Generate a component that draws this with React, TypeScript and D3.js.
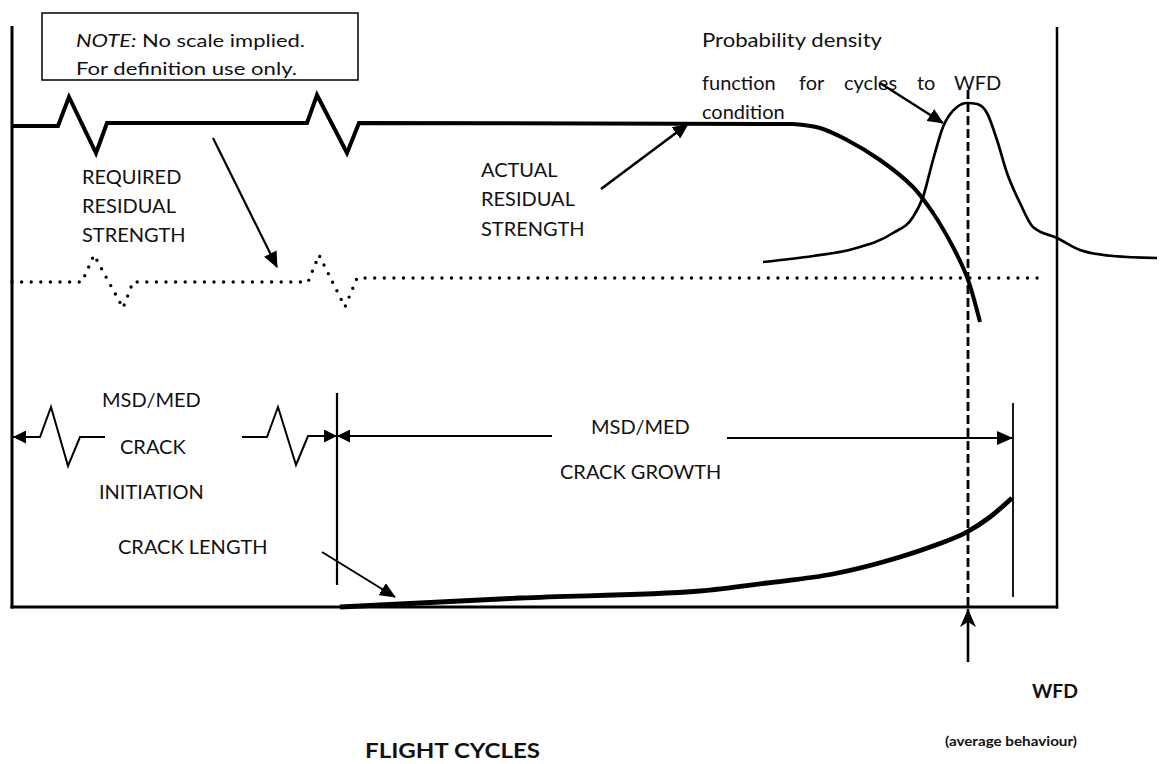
import React, { useEffect } from "react";
import * as d3 from "d3";

// ---- data (x: thousands of flight cycles, y: arbitrary strength / length units) ----
const actualStrengthFlat: [number, number][] = [
  [0, 48.1], [4.6, 48.1], [5.7, 51.0], [8.4, 45.4], [9.5, 48.4], [29.5, 48.4],
  [30.5, 51.2], [33.5, 45.4], [34.7, 48.4], [78.1, 48.3],
];
const actualStrengthDecay: [number, number][] = [
  [78.1, 48.3], [80.8, 47.9], [83.5, 46.7], [86.8, 44.7], [90.1, 42.0],
  [92.1, 39.4], [94.1, 36.0], [95.5, 33.0], [96.8, 28.5],
];
const requiredStrength: [number, number][] = [
  [0, 32.5], [7.0, 32.5], [8.2, 35.2], [11.1, 29.9], [12.1, 32.5], [29.6, 32.5],
  [30.7, 35.2], [33.3, 30.0], [34.5, 32.9], [102.8, 32.9],
];
const pdfCurve: [number, number][] = [
  [75.1, 34.5], [80.1, 35.1], [84.1, 35.8], [88.1, 37.4], [90.1, 39.0], [91.1, 41.0],
  [92.1, 44.7], [93.1, 48.0], [94.5, 50.0], [95.5, 50.4], [96.5, 50.3], [97.5, 49.4],
  [98.5, 46.7], [99.5, 43.4], [100.8, 40.4], [102.1, 38.0], [104.5, 36.9],
  [106.8, 35.7], [110.1, 35.1], [114.5, 34.9],
];
const crackLength: [number, number][] = [
  [32.8, 0], [50.8, 0.9], [68.8, 1.6], [75.5, 2.4], [82.1, 3.3], [88.8, 5.0],
  [92.1, 6.1], [95.5, 7.5], [97.8, 9.0], [100, 10.9],
];
const initiationLeft: [number, number][] = [
  [9.3, 17.0], [6.8, 17.0], [5.6, 14.1], [3.9, 20.0], [2.8, 17.0], [0.1, 17.0],
];
const initiationRight: [number, number][] = [
  [23.0, 17.0], [25.5, 17.0], [26.6, 20.0], [28.4, 14.2], [29.6, 17.1], [32.5, 17.1],
];
const growthLeft: [number, number][] = [[54.0, 17.1], [32.5, 17.1]];
const growthRight: [number, number][] = [[71.5, 16.9], [100.0, 16.9]];
const growthStart = 32.5;
const growthEnd = 100.1;
const wfdCycles = 95.6;
const frameX: [number, number] = [0, 104.5];
const frameTop = 58.1;
const noteBox = { x0: 3.0, x1: 34.6, y0: 52.7, y1: 59.4 };
const requiredArrow: [number, number][] = [[20.1, 46.9], [26.5, 34.0]];
const actualArrow: [number, number][] = [[58.9, 41.8], [67.6, 48.3]];
const pdfArrow: [number, number][] = [[86.8, 52.4], [93.1, 48.4]];
const crackArrow: [number, number][] = [[31.0, 5.5], [38.3, 1.0]];
const wfdArrow: [number, number][] = [[95.6, -5.5], [95.6, -0.2]];

const W = 1161;
const H = 764;

export default function App() {
  useEffect(() => {
    document.body.style.margin = "0";
    document.body.style.overflow = "hidden";
  }, []);

  const x = d3.scaleLinear().domain([0, 104.5]).range([12, 1057]);
  const y = d3.scaleLinear().domain([0, 58.1]).range([607, 26]);
  const lin = d3.line<[number, number]>().x((d) => x(d[0])).y((d) => y(d[1]));
  const smooth = d3
    .line<[number, number]>()
    .x((d) => x(d[0]))
    .y((d) => y(d[1]))
    .curve(d3.curveMonotoneX);
  const smoothCR = d3
    .line<[number, number]>()
    .x((d) => x(d[0]))
    .y((d) => y(d[1]))
    .curve(d3.curveCatmullRom.alpha(0.5));

  const font = "Lato, 'Open Sans', sans-serif";
  const txt = { fontFamily: font, fontSize: 20, fill: "#111" } as const;

  return (
    <svg width={W} height={H} style={{ position: "absolute", left: 0, top: 0, background: "#fff" }}>
      <defs>
        <marker id="tri" markerUnits="userSpaceOnUse" markerWidth={16} markerHeight={14}
          refX={15} refY={7} orient="auto" viewBox="0 0 16 14">
          <path d="M0,0 L16,7 L0,14 Z" fill="#000" />
        </marker>
        <marker id="triS" markerUnits="userSpaceOnUse" markerWidth={13} markerHeight={13}
          refX={13} refY={6.5} orient="auto" viewBox="0 0 13 13">
          <path d="M0,0 L13,6.5 L0,13 Z" fill="#000" />
        </marker>
        <marker id="chev" markerUnits="userSpaceOnUse" markerWidth={18} markerHeight={16}
          refX={18} refY={8} orient="auto" viewBox="0 0 18 16">
          <path d="M0,0 L18,8 L0,16 L5,8 Z" fill="#000" />
        </marker>
      </defs>

      {/* frame */}
      <line x1={x(frameX[0])} x2={x(frameX[0])} y1={y(frameTop)} y2={y(0) + 1.5} stroke="#000" strokeWidth={3} />
      <line x1={x(frameX[1])} x2={x(frameX[1])} y1={y(frameTop - 0.1)} y2={y(0) + 1.5} stroke="#000" strokeWidth={2.5} />
      <line x1={x(frameX[0]) - 1.5} x2={x(frameX[1]) + 1.2} y1={y(0)} y2={y(0)} stroke="#000" strokeWidth={3} />

      {/* note box */}
      <rect x={x(noteBox.x0)} y={y(noteBox.y1)} width={x(noteBox.x1) - x(noteBox.x0)}
        height={y(noteBox.y0) - y(noteBox.y1)} fill="#fff" stroke="#000" strokeWidth={1.5} />
      <text x={76} y={47} style={{ ...txt, fontSize: 17 }} textLength={229} lengthAdjust="spacingAndGlyphs">
        <tspan fontStyle="italic">NOTE:</tspan> No scale implied.
      </text>
      <text x={76} y={75} style={{ ...txt, fontSize: 17 }} textLength={221} lengthAdjust="spacingAndGlyphs">
        For definition use only.
      </text>

      {/* required residual strength (dotted) */}
      <path d={lin(requiredStrength) || ""} fill="none" stroke="#000" strokeWidth={3.4}
        strokeLinecap="round" strokeDasharray="0 9.6" />

      {/* probability density function */}
      <path d={smooth(pdfCurve) || ""} fill="none" stroke="#000" strokeWidth={2.7} />

      {/* actual residual strength */}
      <path d={lin(actualStrengthFlat) || ""} fill="none" stroke="#000" strokeWidth={4} strokeLinejoin="miter" />
      <path d={smoothCR(actualStrengthDecay) || ""} fill="none" stroke="#000" strokeWidth={4} />

      {/* WFD dashed line */}
      <line x1={x(wfdCycles)} x2={x(wfdCycles)} y1={y(51.7)} y2={y(0)} stroke="#000" strokeWidth={2.8}
        strokeDasharray="9 4" />

      {/* crack length curve */}
      <path d={smooth(crackLength) || ""} fill="none" stroke="#000" strokeWidth={4.8} />

      {/* crack initiation / growth dimension lines */}
      <path d={lin(initiationLeft) || ""} fill="none" stroke="#000" strokeWidth={2} markerEnd="url(#triS)" />
      <path d={lin(initiationRight) || ""} fill="none" stroke="#000" strokeWidth={2} markerEnd="url(#triS)" />
      <path d={lin(growthLeft) || ""} fill="none" stroke="#000" strokeWidth={2} markerEnd="url(#triS)" />
      <path d={lin(growthRight) || ""} fill="none" stroke="#000" strokeWidth={2} markerEnd="url(#tri)" />
      <line x1={x(growthStart)} x2={x(growthStart)} y1={y(21.4)} y2={y(2.2)} stroke="#000" strokeWidth={2.2} />
      <line x1={x(growthEnd)} x2={x(growthEnd)} y1={y(20.4)} y2={y(1.0)} stroke="#000" strokeWidth={1.8} />

      {/* label arrows */}
      <path d={lin(requiredArrow) || ""} stroke="#000" strokeWidth={2.2} markerEnd="url(#tri)" />
      <path d={lin(actualArrow) || ""} stroke="#000" strokeWidth={2.6} markerEnd="url(#tri)" />
      <path d={lin(pdfArrow) || ""} stroke="#000" strokeWidth={2.4} markerEnd="url(#tri)" />
      <path d={lin(crackArrow) || ""} stroke="#000" strokeWidth={2} markerEnd="url(#tri)" />
      <path d={lin(wfdArrow) || ""} stroke="#000" strokeWidth={2.6} markerEnd="url(#chev)" />

      {/* labels */}
      <text x={702} y={47} style={txt} textLength={180} lengthAdjust="spacingAndGlyphs">Probability density</text>
      <text x={702} y={90} style={txt}>function</text>
      <text x={799} y={90} style={txt}>for</text>
      <text x={844} y={90} style={txt}>cycles</text>
      <text x={917} y={90} style={txt}>to</text>
      <text x={954} y={90} style={txt}>WFD</text>
      <text x={702} y={119} style={txt}>condition</text>

      <text x={82} y={184} style={txt}>REQUIRED</text>
      <text x={82} y={213} style={txt}>RESIDUAL</text>
      <text x={82} y={242} style={txt}>STRENGTH</text>

      <text x={481} y={177} style={txt}>ACTUAL</text>
      <text x={481} y={206} style={txt}>RESIDUAL</text>
      <text x={481} y={236} style={txt}>STRENGTH</text>

      <text x={102} y={407} style={txt}>MSD/MED</text>
      <text x={120} y={454} style={txt}>CRACK</text>
      <text x={99} y={499} style={txt}>INITIATION</text>
      <text x={118} y={554} style={txt}>CRACK LENGTH</text>

      <text x={591} y={434} style={txt}>MSD/MED</text>
      <text x={560} y={479} style={txt}>CRACK GROWTH</text>

      <text x={1032} y={698} style={{ ...txt, fontSize: 19, fontWeight: 700 }} textLength={46}
        lengthAdjust="spacingAndGlyphs">WFD</text>
      <text x={945} y={746} style={{ ...txt, fontSize: 13.5, fontWeight: 700 }} textLength={132}
        lengthAdjust="spacingAndGlyphs">(average behaviour)</text>
      <text x={365} y={758} style={{ ...txt, fontSize: 21.5, fontWeight: 700 }} textLength={175}
        lengthAdjust="spacingAndGlyphs">FLIGHT CYCLES</text>
    </svg>
  );
}
